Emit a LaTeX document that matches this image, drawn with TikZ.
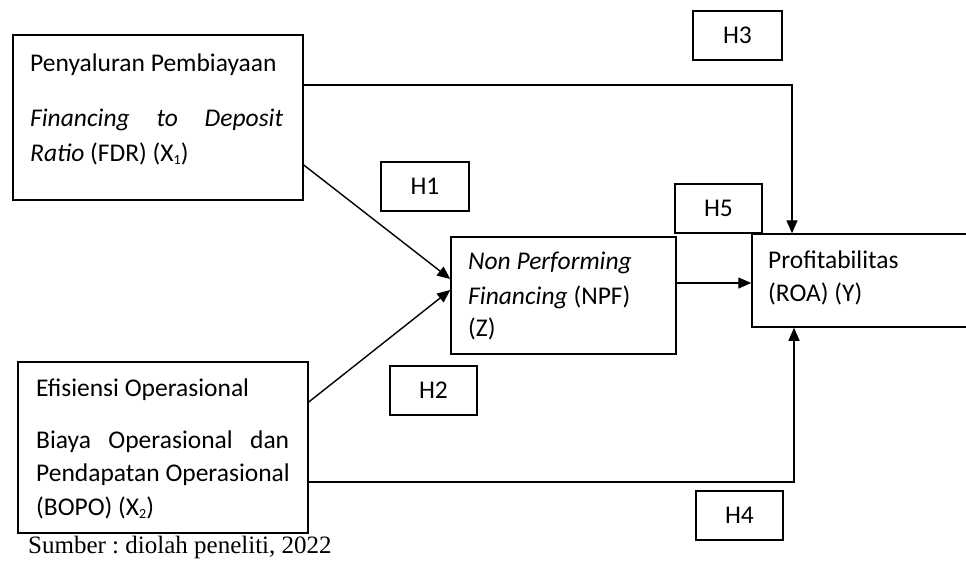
\documentclass[tikz,border=0pt]{standalone}
\usepackage{fontspec}
\setmainfont{Carlito}
\newfontfamily\timesfont{Liberation Serif}
\usetikzlibrary{arrows.meta}
\frenchspacing
\tikzset{
  boxframe/.style={draw, line width=1.5pt, rectangle, inner sep=0pt},
  txt/.style={anchor=base west, inner sep=0pt, font=\fontsize{25.5}{30}\selectfont},
  hlab/.style={boxframe, font=\fontsize{25.5}{30}\selectfont},
  conn/.style={line width=1.4pt, -{Triangle[length=13pt,width=11pt]}},
}
\newcommand{\subidx}[1]{\raisebox{-3pt}{\fontsize{14}{14}\selectfont #1}}
\begin{document}
\begin{tikzpicture}[x=1pt,y=-1pt]
\useasboundingbox (0,0) rectangle (966,563);
% main boxes
\node[boxframe, minimum width=290pt, minimum height=165pt] (x1) at (158,117.5) {};
\node[boxframe, minimum width=290pt, minimum height=171pt] (x2) at (163,447.5) {};
\node[boxframe, minimum width=225pt, minimum height=117pt] (z) at (563.5,295.5) {};
\node[boxframe, minimum width=232pt, minimum height=93pt] (y) at (868,280.5) {};
% hypothesis boxes
\node[hlab, minimum width=88pt, minimum height=49pt] (h1) at (425,186.5) {H1};
\node[hlab, minimum width=87pt, minimum height=49pt] (h2) at (433.5,390.5) {H2};
\node[hlab, minimum width=89pt, minimum height=49pt] (h3) at (737.5,35.5) {H3};
\node[hlab, minimum width=87pt, minimum height=49pt] (h4) at (739.5,515.5) {H4};
\node[hlab, minimum width=87pt, minimum height=49pt] (h5) at (718.5,208.5) {H5};
% texts X1
\node[txt] (t11) at (30,71.7) {Penyaluran Pembiayaan};
\node[txt] (t12) at (30,126) {\hbox to 253pt{\itshape Financing\hfill to\hfill Deposit}};
\node[txt] (t13) at (30,161.7) {\textit{Ratio} (FDR) (X\subidx{1})};
% texts X2
\node[txt] (t21) at (36,396) {Efisiensi Operasional};
\node[txt] (t22) at (36,448) {\hbox to 253pt{Biaya\hfill Operasional\hfill dan}};
\node[txt] (t23) at (36,481.7) {Pendapatan Operasional};
\node[txt] (t24) at (36,515) {(BOPO) (X\subidx{2})};
% texts Z
\node[txt] (t31) at (468,269) {\textit{Non Performing}};
\node[txt] (t32) at (468,304) {\textit{Financing} (NPF)};
\node[txt] (t33) at (468,336) {(Z)};
% texts Y
\node[txt] (t41) at (768,268) {Profitabilitas};
\node[txt] (t42) at (768,301.7) {(ROA) (Y)};
% source
\node[txt, font=\timesfont\fontsize{25}{29}\selectfont] (src) at (28,553) {Sumber : diolah peneliti, 2022};
% connectors
\coordinate (c3) at (792,85);
\coordinate (c4) at (794,482);
\draw[conn] (x1.east |- c3) -- (c3) -- (c3 |- y.north);
\draw[conn] (x2.east |- c4) -- (c4) -- (c4 |- y.south);
\draw[conn] ([yshift=-47.5pt]x1.east) -- ([yshift=16.5pt]z.west);
\draw[conn] ([yshift=45.5pt]x2.west -| x2.east) -- ([yshift=5.5pt]z.west);
\draw[conn] ([yshift=12.5pt]z.east) -- ([yshift=12.5pt]z.east -| y.west);
\end{tikzpicture}
\end{document}
